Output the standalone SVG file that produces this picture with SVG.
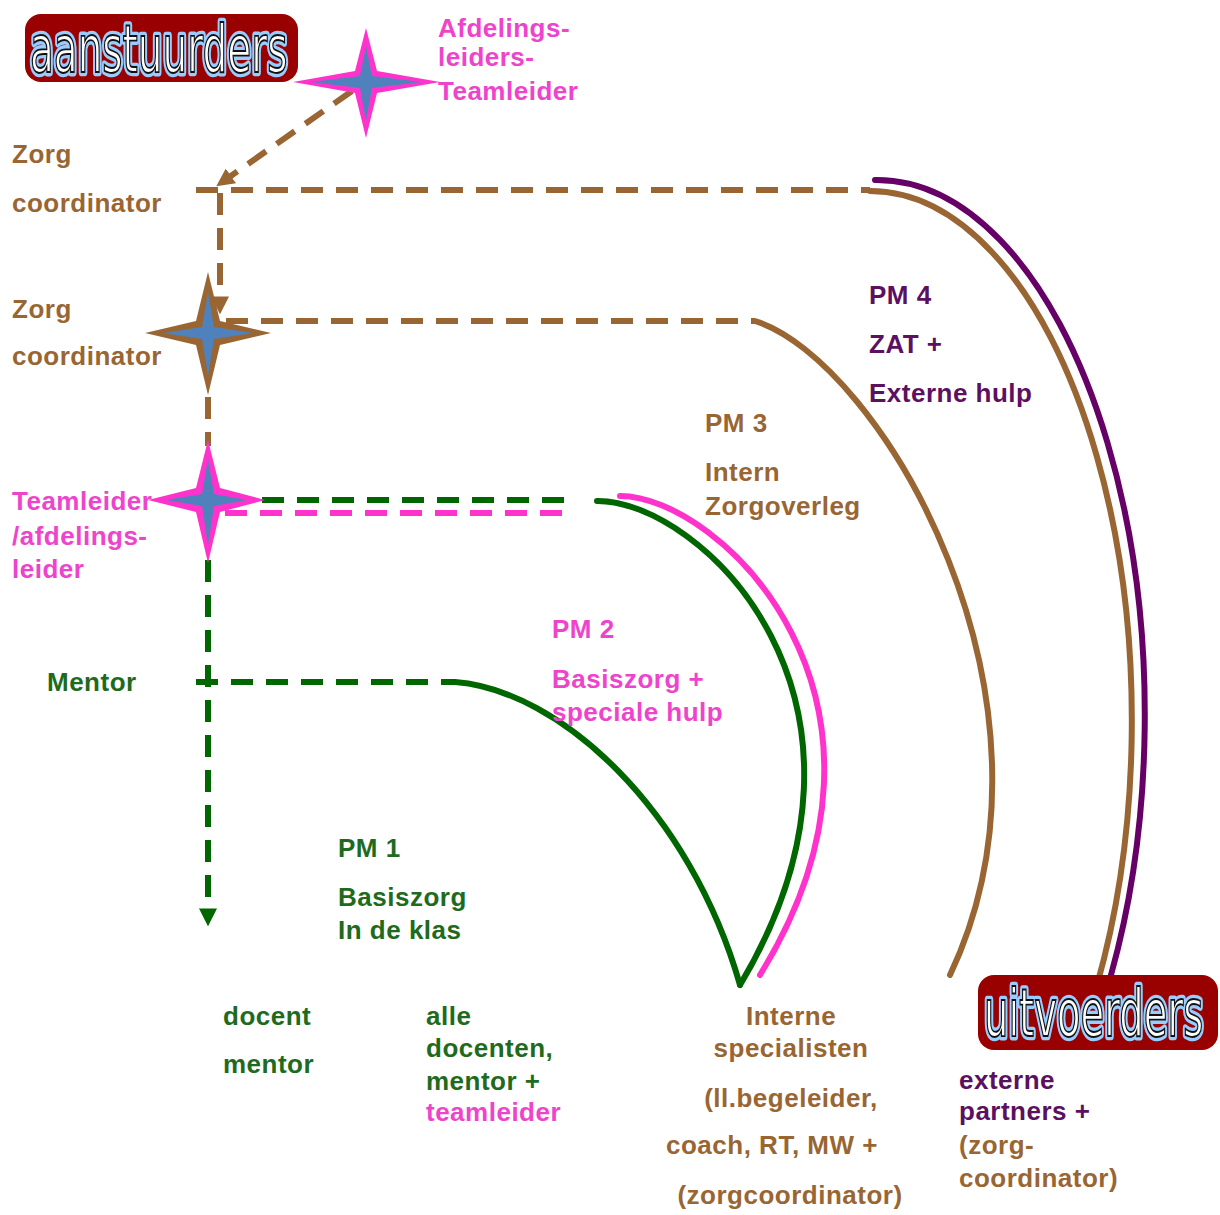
<svg xmlns="http://www.w3.org/2000/svg" width="1220" height="1215" viewBox="0 0 1220 1215">
<style>
text{font-family:"Liberation Sans",Arial,sans-serif;font-weight:bold;font-size:26px;letter-spacing:0.5px}
.br{fill:#996633}.gr{fill:#1E6B1E}.pk{fill:#EE44CC}.pu{fill:#5C1060}
.dash{fill:none;stroke-width:6;stroke-dasharray:22 13}
.solid{fill:none;stroke-width:6;stroke-linecap:round}
text.title{font-family:"DejaVu Sans",sans-serif;font-weight:normal;font-size:46px;letter-spacing:0}
.tglow{fill:none;stroke:#99CCFF;stroke-width:6;stroke-linejoin:round}
.tfill{fill:#ffffff;stroke:#111111;stroke-width:1.3}
.blob{fill:#990000}
.starblue{fill:#4F81BD}
</style>
<defs>
<marker id="abr" viewBox="0 0 10 10" refX="2" refY="5" markerWidth="18" markerHeight="18" markerUnits="userSpaceOnUse" orient="auto"><path d="M0,0 L10,5 L0,10 Z" fill="#996633"/></marker>
<marker id="agr" viewBox="0 0 10 10" refX="2" refY="5" markerWidth="18" markerHeight="18" markerUnits="userSpaceOnUse" orient="auto"><path d="M0,0 L10,5 L0,10 Z" fill="#006600"/></marker>
</defs>
<rect width="1220" height="1215" fill="#ffffff"/>

<g id="connectors">
<path class="dash" stroke="#996633" d="M352,91 L228,178" marker-end="url(#abr)"/>
<path class="dash" stroke="#996633" d="M196,190 H870"/>
<path class="dash" stroke="#996633" d="M220,193 V300" marker-end="url(#abr)"/>
<path class="dash" stroke="#996633" d="M226,321 H755"/>
<path class="dash" stroke="#996633" d="M208,397 V446"/>
<path class="dash" stroke="#006600" d="M262,500 H565"/>
<path class="dash" stroke="#FF33CC" d="M225,513 H565"/>
<path class="dash" stroke="#006600" d="M208,560 V912" marker-end="url(#agr)"/>
<path class="dash" stroke="#006600" d="M196,682 H455"/>
<path class="solid" stroke="#660066" d="M875,180 A268 535 0 0 1 1111,975"/>
<path class="solid" stroke="#996633" d="M870,191 A262 530 0 0 1 1097,985"/>
<path class="solid" stroke="#996633" d="M755,321 C880,360 1080,700 950,975"/>
<path class="solid" stroke="#FF33CC" d="M620,496 C720,496 930,700 760,975"/>
<path class="solid" stroke="#006600" d="M597,501 C700,500 910,700 740,985"/>
<path class="solid" stroke="#006600" d="M455,682 C560,690 690,810 740,985"/>
</g>

<g id="title-aanstuurders">
<rect class="blob" x="25" y="14" width="273" height="68" rx="16"/>
<text class="title tglow" transform="translate(30,72) scale(0.846,1.45)">aanstuurders</text>
<text class="title tfill" transform="translate(30,72) scale(0.846,1.45)">aanstuurders</text>
</g>

<g id="title-uitvoerders">
<rect class="blob" x="978" y="975" width="240" height="75" rx="16"/>
<text class="title tglow" transform="translate(984,1036) scale(0.837,1.45)">uitvoerders</text>
<text class="title tfill" transform="translate(984,1036) scale(0.837,1.45)">uitvoerders</text>
</g>

<g id="star-top">
<path fill="#FF33CC" d="M366,28 L377,71 L440,82 L377,93 L366,138 L355,93 L293,82 L355,71 Z"/>
<path class="starblue" d="M366,46 L372,76 L421,82 L372,88 L366,121 L360,88 L311,82 L360,76 Z"/>
</g>
<g id="star-zorg">
<path fill="#996633" d="M208,272 L220,321 L271,333 L220,345 L208,395 L196,345 L145,333 L196,321 Z"/>
<path class="starblue" d="M208,292 L214,327 L253,333 L214,339 L208,376 L202,339 L163,333 L202,327 Z"/>
</g>
<g id="star-teamleider">
<path fill="#FF33CC" d="M208,440 L220,488 L265,500 L220,512 L208,563 L196,512 L148,500 L196,488 Z"/>
<path class="starblue" d="M208,459 L214,494 L247,500 L214,506 L208,545 L202,506 L166,500 L202,494 Z"/>
</g>

<g id="label-afdelingsleiders" class="pk">
<text x="438" y="37">Afdelings-</text>
<text x="438" y="66">leiders-</text>
<text x="438" y="100">Teamleider</text>
</g>
<g id="label-zorg1" class="br">
<text x="12" y="163">Zorg</text>
<text x="12" y="212">coordinator</text>
</g>
<g id="label-zorg2" class="br">
<text x="12" y="318">Zorg</text>
<text x="12" y="365">coordinator</text>
</g>
<g id="label-teamleider" class="pk">
<text x="12" y="510">Teamleider</text>
<text x="12" y="545">/afdelings-</text>
<text x="12" y="578">leider</text>
</g>
<g id="label-mentor" class="gr">
<text x="47" y="691">Mentor</text>
</g>
<g id="label-pm4" class="pu">
<text x="869" y="304">PM 4</text>
<text x="869" y="353">ZAT +</text>
<text x="869" y="402">Externe hulp</text>
</g>
<g id="label-pm3" class="br">
<text x="705" y="432">PM 3</text>
<text x="705" y="481">Intern</text>
<text x="705" y="515">Zorgoverleg</text>
</g>
<g id="label-pm2" class="pk">
<text x="552" y="638">PM 2</text>
<text x="552" y="688">Basiszorg  +</text>
<text x="552" y="721">speciale hulp</text>
</g>
<g id="label-pm1" class="gr">
<text x="338" y="857">PM 1</text>
<text x="338" y="906">Basiszorg</text>
<text x="338" y="939">In de klas</text>
</g>
<g id="label-docent" class="gr">
<text x="223" y="1025">docent</text>
<text x="223" y="1073">mentor</text>
</g>
<g id="label-alle">
<text class="gr" x="426" y="1025">alle</text>
<text class="gr" x="426" y="1057">docenten,</text>
<text class="gr" x="426" y="1090">mentor +</text>
<text class="pk" x="426" y="1121">teamleider</text>
</g>
<g id="label-interne" class="br" text-anchor="middle">
<text x="791" y="1025">Interne</text>
<text x="791" y="1057">specialisten</text>
<text x="791" y="1107">(ll.begeleider,</text>
<text x="772" y="1154">coach, RT, MW +</text>
<text x="790" y="1204">(zorgcoordinator)</text>
</g>
<g id="label-externe">
<text class="pu" x="959" y="1089">externe</text>
<text class="pu" x="959" y="1120">partners +</text>
<text class="br" x="959" y="1154">(zorg-</text>
<text class="br" x="959" y="1187">coordinator)</text>
</g>
</svg>
